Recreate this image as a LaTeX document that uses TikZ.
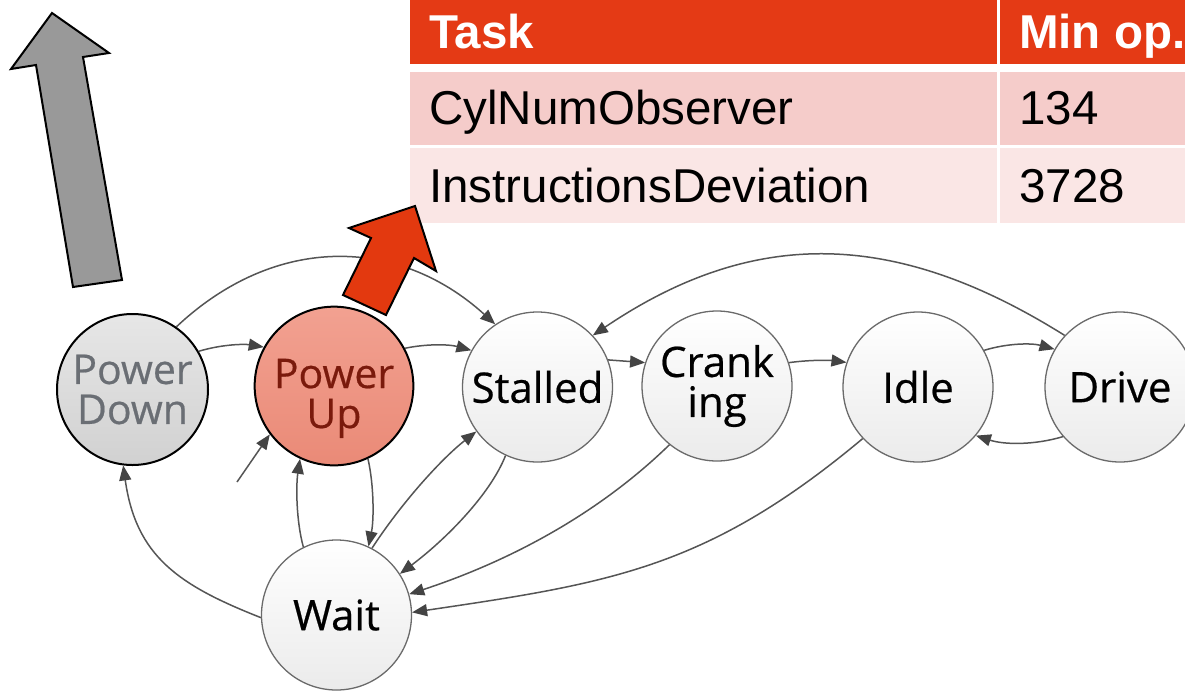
\documentclass[tikz,border=0pt]{standalone}
\usepackage{fontspec}
\setmainfont{Liberation Sans}
\newfontfamily\nodefont[FakeBold=0.5]{Open Sans}
\usetikzlibrary{arrows.meta}
\definecolor{hdr}{HTML}{E43A15}
\definecolor{rowa}{HTML}{F5CCCA}
\definecolor{rowb}{HTML}{FAE6E5}
\definecolor{edgec}{HTML}{555555}
\definecolor{tipc}{HTML}{444444}
\definecolor{pdfill}{HTML}{DCDCDC}
\definecolor{pdtext}{HTML}{6A6E74}
\definecolor{putop}{HTML}{F2A191}
\definecolor{pubot}{HTML}{EA8A77}
\definecolor{putext}{HTML}{7A1A0C}
\definecolor{redarrow}{HTML}{E3390F}
\definecolor{grayarrow}{HTML}{999999}
\definecolor{nborder}{HTML}{6A6A6A}
\definecolor{nbot}{HTML}{EBEBEB}
\begin{document}
\begin{tikzpicture}[x=1pt,y=-1pt,
  state/.style={circle, minimum size=150pt, inner sep=0pt, draw=nborder, line width=1.3pt,
    top color=white, bottom color=nbot, align=center,
    font=\nodefont\fontsize{42}{40}\selectfont},
  darkstate/.style={state, draw=black, line width=2pt, minimum size=151pt,
    font=\nodefont\fontsize{41}{40}\selectfont},
  trans/.style={draw=edgec, line width=1.5pt, -{Triangle[length=15pt,width=12pt,color=tipc]}},
  cellhead/.style={anchor=base west, inner sep=0pt, font=\bfseries\fontsize{47.5}{47.5}\selectfont, text=white},
  cell/.style={anchor=base west, inner sep=0pt, font=\fontsize{47.5}{47.5}\selectfont, text=black},
  blockarrow/.style={draw=black, line width=2pt, line join=miter}
]
\useasboundingbox (0,0) rectangle (1185,691);
\fill[white] (0,0) rectangle (1185,691);

% table
\fill[hdr] (410,0) rectangle (997,64);
\fill[hdr] (1000,0) rectangle (1185,64);
\fill[rowa] (410,72) rectangle (997,145);
\fill[rowa] (1000,72) rectangle (1185,145);
\fill[rowb] (410,148) rectangle (997,223);
\fill[rowb] (1000,148) rectangle (1185,223);
\node[cellhead] (th1) at (429,48) {Task};
\node[cellhead] (th2) at (1019,48) {Min op.};
\node[cell] (r1a) at (429,124) {CylNumObserver};
\node[cell] (r1b) at (1019,124) {134};
\node[cell] (r2a) at (429,202) {InstructionsDeviation};
\node[cell] (r2b) at (1019,202) {3728};

% states
\node[darkstate, top color=pdfill!70!white, bottom color=pdfill!95!black, text=pdtext] (pd) at (132.5,389.5) {Power\\Down};
\node[darkstate, top color=putop, bottom color=pubot, text=putext] (pu) at (334,386) {\rule{0pt}{54pt}Power\\Up};
\node[state] (st) at (537.5,387) {Stalled};
\node[state] (cr) at (717,386) {Crank\\ing};
\node[state] (id) at (918,387) {Idle};
\node[state] (dr) at (1120,387) {Drive};
\node[state] (wt) at (336.5,615) {Wait};

% transitions
\draw[trans] (pd.30) .. controls (223,344) and (245,344) .. (pu.151);
\draw[trans] (pu.28) .. controls (425,344) and (448,344) .. (st.151);
\draw[trans] (pd.55) .. controls (275,234) and (398,236) .. (st.124);
\coordinate (init) at (237,482);
\draw[trans] (init) -- (pu.217);
\draw[trans] (wt.116) .. controls (296,520) and (296,485) .. (pu.245);
\draw[trans] (pu.295) .. controls (374,485) and (374,520) .. (wt.65);
\draw[trans] (wt.62) .. controls (400,505) and (440,460) .. (st.216);
\draw[trans] (st.245) .. controls (490,495) and (445,540) .. (wt.33);
\draw[trans] (cr.231) .. controls (590,522) and (495,566) .. (wt.16);
\draw[trans] (id.223) .. controls (708,568) and (611,583) .. (wt.2);
\draw[trans] (wt.182) .. controls (178,585) and (136,556) .. (pd.263);
\draw[trans] (st.21) -- (cr.162);
\draw[trans] (cr.18) .. controls (808,360) and (828,360) .. (id.161);
\draw[trans] (id.29) .. controls (1008,343) and (1032,343) .. (dr.150);
\draw[trans] (dr.221) .. controls (1035,445) and (1005,445) .. (id.320);
\draw[trans] (dr.137) .. controls (898,231) and (756,225) .. (st.43);

% block arrows
\filldraw[blockarrow, fill=grayarrow] (52,13) -- (109,53) -- (83,57) -- (122,280) -- (73,287) -- (36,65) -- (11,69) -- cycle;
\filldraw[blockarrow, fill=redarrow] (415,206) -- (436,271) -- (414,258) -- (386,315) -- (343,295) -- (371,238) -- (349,228) -- cycle;
\end{tikzpicture}
\end{document}
